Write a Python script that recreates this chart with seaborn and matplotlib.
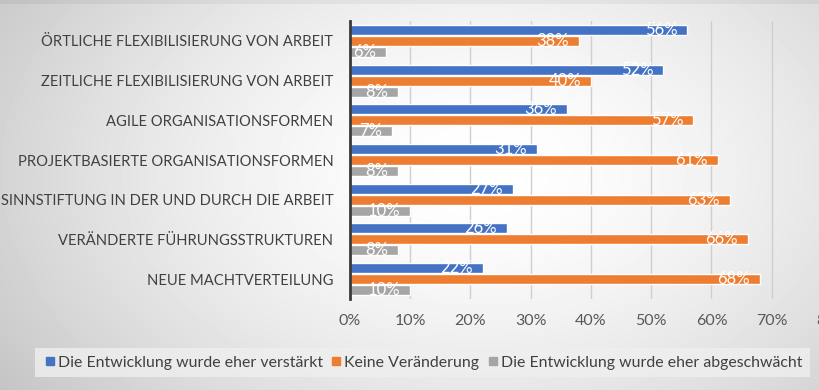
import numpy as np
import pandas as pd
import matplotlib
matplotlib.use("Agg")
import matplotlib.pyplot as plt
import seaborn as sns
from matplotlib.lines import Line2D
from matplotlib.ticker import PercentFormatter

categories = [
    "ÖRTLICHE FLEXIBILISIERUNG VON ARBEIT",
    "ZEITLICHE FLEXIBILISIERUNG VON ARBEIT",
    "AGILE ORGANISATIONSFORMEN",
    "PROJEKTBASIERTE ORGANISATIONSFORMEN",
    "SINNSTIFTUNG IN DER UND DURCH DIE ARBEIT",
    "VERÄNDERTE FÜHRUNGSSTRUKTUREN",
    "NEUE MACHTVERTEILUNG",
]
series_names = [
    "Die Entwicklung wurde eher verstärkt",
    "Keine Veränderung",
    "Die Entwicklung wurde eher abgeschwächt",
]
verstaerkt = [56, 52, 36, 31, 27, 26, 22]
keine = [38, 40, 57, 61, 63, 66, 68]
abgeschwaecht = [6, 8, 7, 8, 10, 8, 10]
xticks = [0, 10, 20, 30, 40, 50, 60, 70, 80]
colors = ["#4472C4", "#ED7D31", "#A5A5A5"]

rows = []
for name, vals in zip(series_names, [verstaerkt, keine, abgeschwaecht]):
    for c, v in zip(categories, vals):
        rows.append({"Kategorie": c, "Serie": name, "Wert": v})
df = pd.DataFrame(rows)

sns.set_theme(style="white")
plt.rcParams["font.family"] = ["Lato", "DejaVu Sans"]

fig = plt.figure(figsize=(8.2, 3.9), dpi=100)

# gradient background
bg = fig.add_axes([0, 0, 1, 1], zorder=-10)
yy, xx = np.mgrid[0:390, 0:820]
r = np.sqrt(((xx - 480) / 500.0) ** 2 + ((yy - 170) / 330.0) ** 2)
img = 1.0 - 0.18 * np.clip(r, 0, 1.3) ** 1.6
img[:4, :] -= 0.04
bg.imshow(img, cmap="gray", vmin=0, vmax=1, aspect="auto", interpolation="bilinear")
bg.set_axis_off()

ax = fig.add_axes([350 / 820, 91 / 390, 482 / 820, 278 / 390])
ax.set_facecolor("none")
sns.barplot(data=df, y="Kategorie", x="Wert", hue="Serie", order=categories,
            hue_order=series_names, palette=colors, orient="h",
            width=0.83, gap=0.08, ax=ax, legend=False, saturation=1)

ax.set_xlim(0, 80)
ax.set_xticks(xticks)
ax.xaxis.set_major_formatter(PercentFormatter(decimals=0))
ax.set_xlabel("")
ax.set_ylabel("")
ax.grid(axis="x", color="#cfcfcf", linewidth=1)
ax.set_axisbelow(True)
for s in ["top", "right", "bottom"]:
    ax.spines[s].set_visible(False)
ax.spines["left"].set_color("#3a3a3a")
ax.spines["left"].set_linewidth(2)
ax.tick_params(axis="x", length=0, pad=11, labelsize=11.5, labelcolor="#595959")
ax.tick_params(axis="y", length=0, pad=12, labelsize=10.6, labelcolor="#404040")

for cont in ax.containers:
    ax.bar_label(cont, labels=[f"{int(v)}%" for v in cont.datavalues],
                 padding=-7, color="white", fontsize=12)
for t in ax.texts:
    t.set_horizontalalignment("right")
    t.set_verticalalignment("center")

handles = [Line2D([0], [0], marker="s", linestyle="none", markersize=6,
                  markerfacecolor=c, markeredgecolor=c) for c in colors]
leg = fig.legend(handles, series_names, loc="center left",
                 bbox_to_anchor=(27 / 820, 27.5 / 390), ncol=3, frameon=True,
                 fancybox=False, fontsize=11.4, handletextpad=0.05,
                 columnspacing=0.4, handlelength=0.9, borderpad=0.5)
leg.get_frame().set_facecolor("#efefef")
leg.get_frame().set_edgecolor("none")
for t in leg.get_texts():
    t.set_color("#404040")

fig.savefig("out.png", dpi=100)
